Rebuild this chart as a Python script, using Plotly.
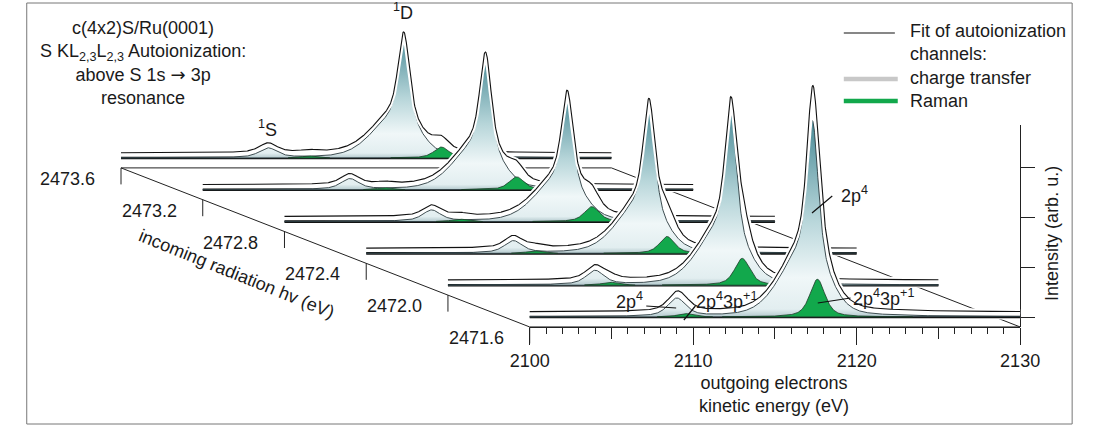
import numpy as np
import plotly.graph_objects as go

W, H = 1096, 427

# ---------------- data ----------------
# incoming photon energies (front -> back)
hv = [2471.6, 2472.0, 2472.4, 2472.8, 2473.2, 2473.6]
hv_labels = ["2471.6", "2472.0", "2472.4", "2472.8", "2473.2", "2473.6"]

# kinetic-energy window of every spectrum and tick labels
ke_min, ke_max = 2100.0, 2130.0
ke_ticks = [2100, 2110, 2120, 2130]
ke_mid_ticks = [2105, 2115, 2125]
intensity_ticks = [0, 1, 2, 3]

# charge-transfer (2p4) components: fixed kinetic energy
ct_1D_pos = 2117.3
ct_1D_height = [3.95, 3.50, 2.97, 2.52, 2.66, 2.43]
ct_1D_fwhm = 0.8
ct_1S_pos = 2109.0
ct_1S_height = [0.36, 0.28, 0.24, 0.22, 0.21, 0.19]
ct_1S_fwhm = 1.3

# Raman (2p4 3p+1) components: disperse with hv
raman_1D_pos = [2117.6, 2118.0, 2118.4, 2118.8, 2119.2, 2119.6]
raman_1D_height = [0.76, 0.54, 0.34, 0.30, 0.26, 0.22]
raman_1S_pos = [2109.5, 2109.9, 2110.3, 2110.7, 2111.1, 2111.5]
raman_1S_height = [0.07, 0.06, 0.05, 0.05, 0.04, 0.04]
raman_fwhm = 1.1

background = [0.10, 0.10, 0.10, 0.10, 0.10, 0.10]

# ---------------- projection of the waterfall ----------------
KE_SHIFT = 5.0      # eV of apparent shift per 0.4 eV hv step
LIFT = 0.64         # intensity units per 0.4 eV hv step
FLOOR = -0.20       # floor plane below the spectra base
HV_STEP = 0.4

# pixel calibration of the full-figure axes
PX_PER_EV = 16.967
PX_PER_U = 49.7
X0_PX, Y0_PX = 529.0, 317.0
x_full = [ke_min - X0_PX / PX_PER_EV, ke_min + (W - X0_PX) / PX_PER_EV]
y_full = [-(H - Y0_PX) / PX_PER_U, Y0_PX / PX_PER_U]


def depth(k):
    return (hv[k] - hv[0]) / HV_STEP


def proj(E, I, k):
    d = depth(k)
    return np.asarray(E) - KE_SHIFT * d, np.asarray(I) + LIFT * d


def pvoigt(E, x0, fwhm, eta):
    s = fwhm / 2.3548
    g = fwhm / 2.0
    return eta / (1 + ((E - x0) / g) ** 2) + (1 - eta) * np.exp(-0.5 * ((E - x0) / s) ** 2)


def asym_gauss(E, x0, sl, sr):
    s = np.where(E < x0, sl, sr)
    return np.exp(-0.5 * ((E - x0) / s) ** 2)


def lor(E, x0, g):
    return 1 / (1 + ((E - x0) / g) ** 2)


E = np.linspace(ke_min, ke_max, 1201)

shape_1D = (0.66 * pvoigt(E, ct_1D_pos, ct_1D_fwhm, 0.5)
            + 0.30 * asym_gauss(E, ct_1D_pos - 0.3, 1.5, 1.15)
            + 0.04 * lor(E, ct_1D_pos - 0.5, 3.0))
shape_1D = shape_1D / shape_1D.max()

fig = go.Figure()


def px2paper(px, py):
    return px / W, 1 - py / H


XA = dict(xaxis="x2", yaxis="y2")

# ---- floor box of the 3D frame ----
dback = depth(len(hv) - 1)
fb = FLOOR + LIFT * dback
f0 = FLOOR
box_x = [ke_min - KE_SHIFT * dback, ke_max - KE_SHIFT * dback, ke_max, None,
         ke_min - KE_SHIFT * dback, ke_min]
box_y = [fb, fb, f0, None, fb, f0]
fig.add_trace(go.Scatter(x=box_x, y=box_y, mode="lines", line=dict(color="#222", width=1),
                         hoverinfo="skip", **XA))

# depth-axis ticks
tk_x, tk_y = [], []
for k in range(len(hv)):
    d = depth(k)
    xt = ke_min - KE_SHIFT * d
    yt = FLOOR + LIFT * d
    tk_x += [xt, xt, None]
    tk_y += [yt, yt - 16.5 / PX_PER_U, None]
fig.add_trace(go.Scatter(x=tk_x, y=tk_y, mode="lines", line=dict(color="#222", width=1),
                         hoverinfo="skip", **XA))

ct_scale = [[0.0, "#b3c9cd"], [0.04, "#e2eef0"], [0.2, "#f0f7f8"],
            [0.5, "#b6d5d9"], [1.0, "#4a8b97"]]

# ---- spectra back to front ----
for k in range(len(hv) - 1, -1, -1):
    ct = ct_1D_height[k] * shape_1D + ct_1S_height[k] * pvoigt(E, ct_1S_pos, ct_1S_fwhm, 0.6)
    ram = raman_1D_height[k] * pvoigt(E, raman_1D_pos[k], raman_fwhm, 0.6)
    ram1s = raman_1S_height[k] * pvoigt(E, raman_1S_pos[k], raman_fwhm, 0.6)
    total = background[k] + ct + ram + ram1s

    Xd, Yd = proj(E, total, k)
    Xb, Yb = proj(E, np.zeros_like(E), k)

    # opaque white occluder
    fig.add_trace(go.Scatter(
        x=np.concatenate([Xd, Xb[::-1]]), y=np.concatenate([Yd + 0.02, Yb[::-1] - 0.05]),
        mode="lines", fill="toself", fillcolor="white", line=dict(width=0),
        hoverinfo="skip", **XA))
    # base line
    fig.add_trace(go.Scatter(x=Xb, y=Yb, mode="lines", line=dict(color="#111", width=2.6),
                             hoverinfo="skip", **XA))
    # charge transfer fill
    Xc, Yc = proj(E, ct, k)
    fig.add_trace(go.Scatter(
        x=np.concatenate([Xc, Xb[::-1]]), y=np.concatenate([Yc, Yb[::-1]]),
        mode="lines", fill="toself",
        fillgradient=dict(type="vertical", colorscale=ct_scale,
                          start=float(Yb[0]), stop=float(Yc.max())),
        line=dict(color="#2a3a3e", width=0.9), hoverinfo="skip", **XA))
    # Raman fills
    for comp in (ram, ram1s):
        Xr, Yr = proj(E, comp, k)
        m = comp > 0.004
        fig.add_trace(go.Scatter(
            x=np.concatenate([Xr[m], Xb[m][::-1]]), y=np.concatenate([Yr[m], Yb[m][::-1]]),
            mode="lines", fill="toself", fillcolor="#12a84c",
            line=dict(color="#1d3a28", width=0.8), hoverinfo="skip", **XA))
    # fit envelope with white halo
    fig.add_trace(go.Scatter(x=Xd, y=Yd, mode="lines", line=dict(color="white", width=5),
                             hoverinfo="skip", **XA))
    fig.add_trace(go.Scatter(x=Xd, y=Yd, mode="lines", line=dict(color="#111", width=1.1),
                             hoverinfo="skip", **XA))

# dummy traces so the front axes are drawn
fig.add_trace(go.Scatter(x=[ke_min, ke_max], y=[FLOOR, FLOOR], mode="lines",
                         line=dict(color="#222", width=1), hoverinfo="skip",
                         xaxis="x", yaxis="y"))
fig.add_trace(go.Scatter(x=[ke_min], y=[0], mode="markers", marker=dict(opacity=0),
                         hoverinfo="skip", xaxis="x3", yaxis="y"))

FONT = "Liberation Sans, Arial, Helvetica, sans-serif"
FS = 18
dom_x = [X0_PX / W, (X0_PX + 30 * PX_PER_EV) / W]
floor_px = Y0_PX - FLOOR * PX_PER_U
ax_pos = 1 - floor_px / H
y_top_px = 125
y_rng = [FLOOR, (Y0_PX - y_top_px) / PX_PER_U]

annotations = []


def txt(s, px, py, size=FS, angle=0, xanchor="center", yanchor="middle", align="center"):
    xp, yp = px2paper(px, py)
    annotations.append(dict(text=s, x=xp, y=yp, xref="paper", yref="paper", showarrow=False,
                            font=dict(family=FONT, size=size, color="#1a1a1a"), textangle=angle,
                            xanchor=xanchor, yanchor=yanchor, align=align))


# depth axis labels
for k in range(len(hv)):
    d = depth(k)
    xt_px = X0_PX - KE_SHIFT * d * PX_PER_EV
    yt_px = floor_px - LIFT * d * PX_PER_U
    txt(hv_labels[k], xt_px - 25, yt_px + 11, xanchor="right")

arrow = '<span style="font-family:DejaVu Sans">\u2192</span>'
txt("c(4x2)S/Ru(0001)<br>S KL<sub>2,3</sub>L<sub>2,3</sub> Autoionization:<br>above S 1s " + arrow + " 3p<br>resonance",
    128, 63)
txt("Fit of autoionization<br>channels:<br>charge transfer<br>Raman", 922, 66, xanchor="left", align="left")
txt("<sup>1</sup>D", 397, 11)
txt("<sup>1</sup>S", 257, 128)
txt("incoming radiation hv (eV)", 225, 274, angle=22)
txt("outgoing electrons<br>kinetic energy (eV)", 783, 394)
txt("Intensity (arb. u.)", 1071, 233, angle=-90)
txt("2p<sup>4</sup>", 866, 194)
txt("2p<sup>4</sup>3p<sup>+1</sup>", 896, 297)
txt("2p<sup>4</sup>", 633, 300)
txt("2p<sup>4</sup>3p<sup>+1</sup>", 733, 300)

shapes = []


def seg(x0, y0, x1, y1, color="#111", width=1.2):
    a, b = px2paper(x0, y0)
    c, d = px2paper(x1, y1)
    shapes.append(dict(type="line", xref="paper", yref="paper", x0=a, y0=b, x1=c, y1=d,
                       line=dict(color=color, width=width), layer="above"))


seg(822, 213, 843, 196)
seg(828, 303, 862, 298)
seg(650, 306, 681, 308)
seg(701, 306, 689, 320)
# legend keys
seg(855, 33, 908, 33, "#111", 1.1)
seg(855, 79, 911, 79, "#c8c8c8", 4.5)
seg(855, 101, 911, 101, "#12a84c", 4.5)
# frame
shapes.append(dict(type="rect", xref="paper", yref="paper", x0=7 / W, y0=1 - 424 / H,
                   x1=1092 / W, y1=1 - 3 / H, line=dict(color="#777", width=1), layer="below"))

fig.update_layout(
    width=W, height=H, margin=dict(l=0, r=0, t=0, b=0),
    paper_bgcolor="white", plot_bgcolor="rgba(0,0,0,0)", showlegend=False,
    font=dict(family=FONT, size=FS, color="#1a1a1a"),
    xaxis=dict(domain=dom_x, range=[ke_min, ke_max], anchor="free", position=ax_pos,
               showline=True, linecolor="#222", linewidth=1, ticks="outside", tickvals=ke_ticks,
               ticklen=17, tickcolor="#222", tickfont=dict(size=FS), showgrid=False, zeroline=False,
               minor=dict(dtick=1, tick0=2100, ticklen=6, ticks="outside", tickcolor="#222", showgrid=False)),
    xaxis3=dict(overlaying="x", range=[ke_min, ke_max], anchor="free", position=ax_pos,
                showline=False, ticks="outside", tickvals=ke_mid_ticks, ticklen=11, tickcolor="#222",
                showticklabels=False, showgrid=False, zeroline=False),
    yaxis=dict(domain=[ax_pos, 1 - y_top_px / H], range=y_rng, anchor="free",
               position=(X0_PX + 30 * PX_PER_EV) / W,
               side="right", showline=True, linecolor="#222", linewidth=1, ticks="outside",
               tickvals=intensity_ticks, ticklen=14, tickcolor="#222", showticklabels=False,
               showgrid=False, zeroline=False),
    xaxis2=dict(domain=[0, 1], range=x_full, visible=False, anchor="y2"),
    yaxis2=dict(domain=[0, 1], range=y_full, visible=False, anchor="x2"),
    annotations=annotations, shapes=shapes,
)

fig.write_html("out.html", config={"displayModeBar": False},
               post_script="document.body.style.margin='0';document.body.style.overflow='hidden';")
